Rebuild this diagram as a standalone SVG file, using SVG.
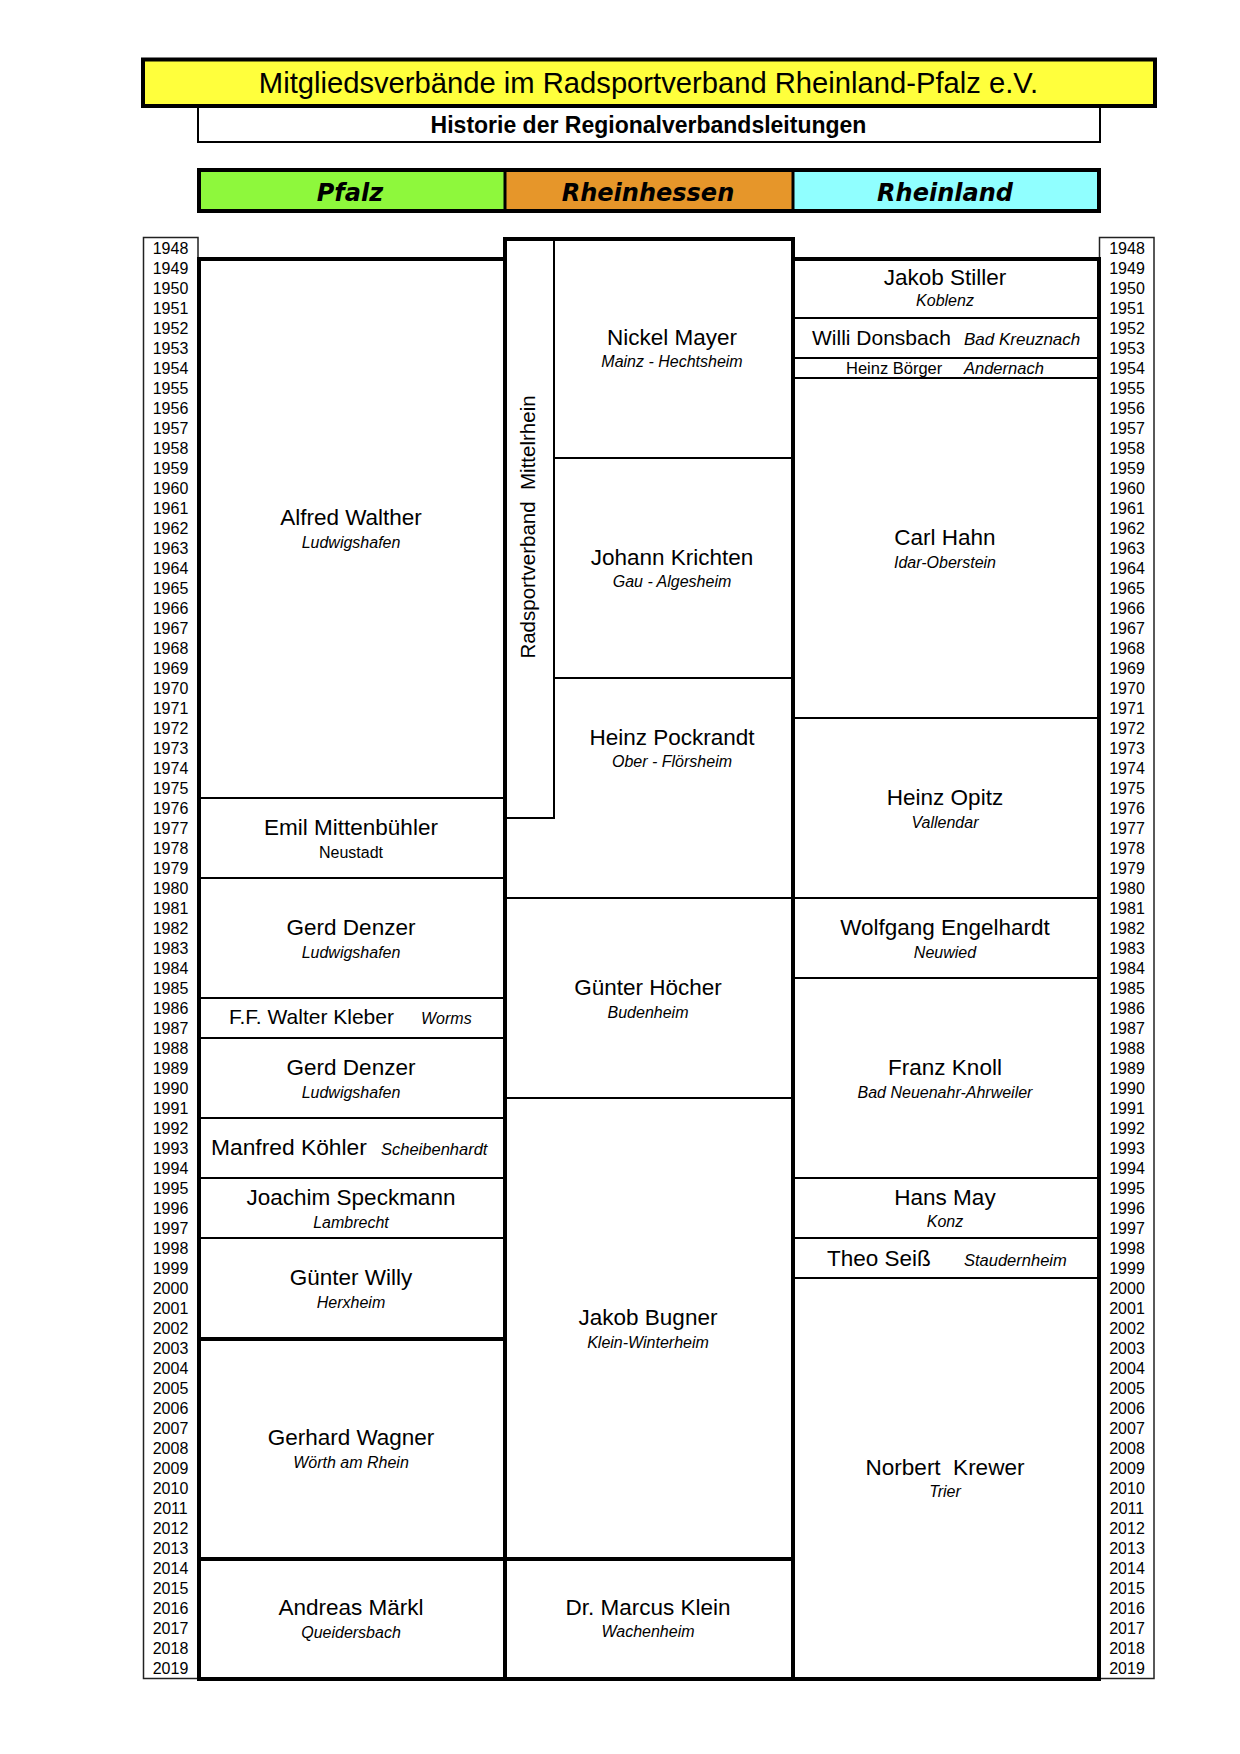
<svg xmlns="http://www.w3.org/2000/svg" width="1240" height="1754" viewBox="0 0 1240 1754">
<style>
text{font-family:"Liberation Sans",Arial,sans-serif;fill:#000}
.n{font-size:22.5px;text-anchor:middle}
.s{font-size:16px;font-style:italic;text-anchor:middle}
.u{font-size:16px;text-anchor:middle}
.y{font-size:16px;text-anchor:middle}
.h{font-family:"DejaVu Sans",Verdana,sans-serif;font-weight:bold;font-style:italic;font-size:24px;text-anchor:middle}
.thin{stroke:#000;stroke-width:2;fill:none}
.thick{stroke:#000;stroke-width:4;fill:none}
.ybox{stroke:#222;stroke-width:1.5;fill:#fff}
</style>
<rect width="1240" height="1754" fill="#fff"/>
<g id="title">
<rect x="143" y="59.5" width="1012" height="46.5" fill="#FFFF3C" stroke="#000" stroke-width="4"/>
<text x="648.5" y="93" style="font-size:29.2px;text-anchor:middle">Mitgliedsverbände im Radsportverband Rheinland-Pfalz e.V.</text>
</g>
<g id="subtitle">
<rect x="198" y="107" width="902" height="35" fill="#fff" stroke="#000" stroke-width="2"/>
<text x="648.5" y="133" style="font-size:23px;font-weight:bold;text-anchor:middle">Historie der Regionalverbandsleitungen</text>
</g>
<g id="header">
<rect x="199" y="170" width="306" height="41" fill="#8EF83C"/>
<rect x="505" y="170" width="288" height="41" fill="#E6962A"/>
<rect x="793" y="170" width="306" height="41" fill="#90FFFF"/>
<rect x="199" y="170" width="900" height="41" class="thick"/>
<line x1="505" y1="170" x2="505" y2="211" stroke="#000" stroke-width="3"/>
<line x1="793" y1="170" x2="793" y2="211" stroke="#000" stroke-width="3"/>
<text class="h" x="350" y="201">Pfalz</text>
<text class="h" x="648" y="201">Rheinhessen</text>
<text class="h" x="945" y="201">Rheinland</text>
</g>
<g id="years-left">
<rect class="ybox" x="143.5" y="237.5" width="54.5" height="1441"/>
<text class="y" x="170.5" y="254">1948</text><text class="y" x="170.5" y="274">1949</text><text class="y" x="170.5" y="294">1950</text><text class="y" x="170.5" y="314">1951</text><text class="y" x="170.5" y="334">1952</text><text class="y" x="170.5" y="354">1953</text><text class="y" x="170.5" y="374">1954</text><text class="y" x="170.5" y="394">1955</text><text class="y" x="170.5" y="414">1956</text><text class="y" x="170.5" y="434">1957</text><text class="y" x="170.5" y="454">1958</text><text class="y" x="170.5" y="474">1959</text><text class="y" x="170.5" y="494">1960</text><text class="y" x="170.5" y="514">1961</text><text class="y" x="170.5" y="534">1962</text><text class="y" x="170.5" y="554">1963</text><text class="y" x="170.5" y="574">1964</text><text class="y" x="170.5" y="594">1965</text><text class="y" x="170.5" y="614">1966</text><text class="y" x="170.5" y="634">1967</text><text class="y" x="170.5" y="654">1968</text><text class="y" x="170.5" y="674">1969</text><text class="y" x="170.5" y="694">1970</text><text class="y" x="170.5" y="714">1971</text><text class="y" x="170.5" y="734">1972</text><text class="y" x="170.5" y="754">1973</text><text class="y" x="170.5" y="774">1974</text><text class="y" x="170.5" y="794">1975</text><text class="y" x="170.5" y="814">1976</text><text class="y" x="170.5" y="834">1977</text><text class="y" x="170.5" y="854">1978</text><text class="y" x="170.5" y="874">1979</text><text class="y" x="170.5" y="894">1980</text><text class="y" x="170.5" y="914">1981</text><text class="y" x="170.5" y="934">1982</text><text class="y" x="170.5" y="954">1983</text><text class="y" x="170.5" y="974">1984</text><text class="y" x="170.5" y="994">1985</text><text class="y" x="170.5" y="1014">1986</text><text class="y" x="170.5" y="1034">1987</text><text class="y" x="170.5" y="1054">1988</text><text class="y" x="170.5" y="1074">1989</text><text class="y" x="170.5" y="1094">1990</text><text class="y" x="170.5" y="1114">1991</text><text class="y" x="170.5" y="1134">1992</text><text class="y" x="170.5" y="1154">1993</text><text class="y" x="170.5" y="1174">1994</text><text class="y" x="170.5" y="1194">1995</text><text class="y" x="170.5" y="1214">1996</text><text class="y" x="170.5" y="1234">1997</text><text class="y" x="170.5" y="1254">1998</text><text class="y" x="170.5" y="1274">1999</text><text class="y" x="170.5" y="1294">2000</text><text class="y" x="170.5" y="1314">2001</text><text class="y" x="170.5" y="1334">2002</text><text class="y" x="170.5" y="1354">2003</text><text class="y" x="170.5" y="1374">2004</text><text class="y" x="170.5" y="1394">2005</text><text class="y" x="170.5" y="1414">2006</text><text class="y" x="170.5" y="1434">2007</text><text class="y" x="170.5" y="1454">2008</text><text class="y" x="170.5" y="1474">2009</text><text class="y" x="170.5" y="1494">2010</text><text class="y" x="170.5" y="1514">2011</text><text class="y" x="170.5" y="1534">2012</text><text class="y" x="170.5" y="1554">2013</text><text class="y" x="170.5" y="1574">2014</text><text class="y" x="170.5" y="1594">2015</text><text class="y" x="170.5" y="1614">2016</text><text class="y" x="170.5" y="1634">2017</text><text class="y" x="170.5" y="1654">2018</text><text class="y" x="170.5" y="1674">2019</text>
</g>
<g id="years-right">
<rect class="ybox" x="1099.5" y="237.5" width="54.5" height="1441"/>
<text class="y" x="1127" y="254">1948</text><text class="y" x="1127" y="274">1949</text><text class="y" x="1127" y="294">1950</text><text class="y" x="1127" y="314">1951</text><text class="y" x="1127" y="334">1952</text><text class="y" x="1127" y="354">1953</text><text class="y" x="1127" y="374">1954</text><text class="y" x="1127" y="394">1955</text><text class="y" x="1127" y="414">1956</text><text class="y" x="1127" y="434">1957</text><text class="y" x="1127" y="454">1958</text><text class="y" x="1127" y="474">1959</text><text class="y" x="1127" y="494">1960</text><text class="y" x="1127" y="514">1961</text><text class="y" x="1127" y="534">1962</text><text class="y" x="1127" y="554">1963</text><text class="y" x="1127" y="574">1964</text><text class="y" x="1127" y="594">1965</text><text class="y" x="1127" y="614">1966</text><text class="y" x="1127" y="634">1967</text><text class="y" x="1127" y="654">1968</text><text class="y" x="1127" y="674">1969</text><text class="y" x="1127" y="694">1970</text><text class="y" x="1127" y="714">1971</text><text class="y" x="1127" y="734">1972</text><text class="y" x="1127" y="754">1973</text><text class="y" x="1127" y="774">1974</text><text class="y" x="1127" y="794">1975</text><text class="y" x="1127" y="814">1976</text><text class="y" x="1127" y="834">1977</text><text class="y" x="1127" y="854">1978</text><text class="y" x="1127" y="874">1979</text><text class="y" x="1127" y="894">1980</text><text class="y" x="1127" y="914">1981</text><text class="y" x="1127" y="934">1982</text><text class="y" x="1127" y="954">1983</text><text class="y" x="1127" y="974">1984</text><text class="y" x="1127" y="994">1985</text><text class="y" x="1127" y="1014">1986</text><text class="y" x="1127" y="1034">1987</text><text class="y" x="1127" y="1054">1988</text><text class="y" x="1127" y="1074">1989</text><text class="y" x="1127" y="1094">1990</text><text class="y" x="1127" y="1114">1991</text><text class="y" x="1127" y="1134">1992</text><text class="y" x="1127" y="1154">1993</text><text class="y" x="1127" y="1174">1994</text><text class="y" x="1127" y="1194">1995</text><text class="y" x="1127" y="1214">1996</text><text class="y" x="1127" y="1234">1997</text><text class="y" x="1127" y="1254">1998</text><text class="y" x="1127" y="1274">1999</text><text class="y" x="1127" y="1294">2000</text><text class="y" x="1127" y="1314">2001</text><text class="y" x="1127" y="1334">2002</text><text class="y" x="1127" y="1354">2003</text><text class="y" x="1127" y="1374">2004</text><text class="y" x="1127" y="1394">2005</text><text class="y" x="1127" y="1414">2006</text><text class="y" x="1127" y="1434">2007</text><text class="y" x="1127" y="1454">2008</text><text class="y" x="1127" y="1474">2009</text><text class="y" x="1127" y="1494">2010</text><text class="y" x="1127" y="1514">2011</text><text class="y" x="1127" y="1534">2012</text><text class="y" x="1127" y="1554">2013</text><text class="y" x="1127" y="1574">2014</text><text class="y" x="1127" y="1594">2015</text><text class="y" x="1127" y="1614">2016</text><text class="y" x="1127" y="1634">2017</text><text class="y" x="1127" y="1654">2018</text><text class="y" x="1127" y="1674">2019</text>
</g>
<g id="connectors">
<line class="thick" x1="197" y1="259" x2="507" y2="259"/>
<line class="thick" x1="791" y1="259" x2="1101" y2="259"/>
<line class="thick" x1="503" y1="239" x2="795" y2="239"/>
<line class="thick" x1="199" y1="257" x2="199" y2="1681"/>
<line class="thick" x1="505" y1="237" x2="505" y2="1681"/>
<line class="thick" x1="793" y1="237" x2="793" y2="1681"/>
<line class="thick" x1="1099" y1="257" x2="1099" y2="1681"/>
<line class="thick" x1="197" y1="1679" x2="1101" y2="1679"/>
<line class="thin" x1="199" y1="798" x2="505" y2="798"/>
<line class="thin" x1="199" y1="878" x2="505" y2="878"/>
<line class="thin" x1="199" y1="998" x2="505" y2="998"/>
<line class="thin" x1="199" y1="1038" x2="505" y2="1038"/>
<line class="thin" x1="199" y1="1118" x2="505" y2="1118"/>
<line class="thin" x1="199" y1="1178" x2="505" y2="1178"/>
<line class="thin" x1="199" y1="1238" x2="505" y2="1238"/>
<line class="thick" x1="199" y1="1339" x2="505" y2="1339"/>
<line class="thick" x1="199" y1="1559" x2="505" y2="1559"/>
<line class="thin" x1="554" y1="237" x2="554" y2="819"/>
<line class="thin" x1="505" y1="818" x2="555" y2="818"/>
<line class="thin" x1="554" y1="458" x2="793" y2="458"/>
<line class="thin" x1="554" y1="678" x2="793" y2="678"/>
<line class="thin" x1="505" y1="898" x2="793" y2="898"/>
<line class="thin" x1="505" y1="1098" x2="793" y2="1098"/>
<line class="thick" x1="505" y1="1559" x2="793" y2="1559"/>
<line class="thin" x1="793" y1="318" x2="1099" y2="318"/>
<line class="thin" x1="793" y1="358" x2="1099" y2="358"/>
<line class="thin" x1="793" y1="378" x2="1099" y2="378"/>
<line class="thin" x1="793" y1="718" x2="1099" y2="718"/>
<line class="thin" x1="793" y1="898" x2="1099" y2="898"/>
<line class="thin" x1="793" y1="978" x2="1099" y2="978"/>
<line class="thin" x1="793" y1="1178" x2="1099" y2="1178"/>
<line class="thin" x1="793" y1="1238" x2="1099" y2="1238"/>
<line class="thin" x1="793" y1="1278" x2="1099" y2="1278"/>
</g>
<g id="mittelrhein">
<text transform="translate(535,527) rotate(-90)" style="font-size:20.5px;text-anchor:middle" xml:space="preserve">Radsportverband  Mittelrhein</text>
</g>
<g id="pfalz-walther"><text class="n" x="351" y="525">Alfred Walther</text><text class="s" x="351" y="547.5">Ludwigshafen</text></g>
<g id="pfalz-mittenbuehler"><text class="n" x="351" y="835">Emil Mittenbühler</text><text class="u" x="351" y="858">Neustadt</text></g>
<g id="pfalz-denzer1"><text class="n" x="351" y="935">Gerd Denzer</text><text class="s" x="351" y="958">Ludwigshafen</text></g>
<g id="pfalz-kleber"><text x="229" y="1024" style="font-size:21px">F.F. Walter Kleber</text><text x="421" y="1024" style="font-size:16px;font-style:italic">Worms</text></g>
<g id="pfalz-denzer2"><text class="n" x="351" y="1075">Gerd Denzer</text><text class="s" x="351" y="1098">Ludwigshafen</text></g>
<g id="pfalz-koehler"><text x="211" y="1155" style="font-size:22.8px">Manfred Köhler</text><text x="381" y="1155" style="font-size:16.5px;font-style:italic">Scheibenhardt</text></g>
<g id="pfalz-speckmann"><text class="n" x="351" y="1205">Joachim Speckmann</text><text class="s" x="351" y="1228">Lambrecht</text></g>
<g id="pfalz-willy"><text class="n" x="351" y="1285">Günter Willy</text><text class="s" x="351" y="1308">Herxheim</text></g>
<g id="pfalz-wagner"><text class="n" x="351" y="1445">Gerhard Wagner</text><text class="s" x="351" y="1468">Wörth am Rhein</text></g>
<g id="pfalz-maerkl"><text class="n" x="351" y="1615">Andreas Märkl</text><text class="s" x="351" y="1638">Queidersbach</text></g>
<g id="rh-mayer"><text class="n" x="672" y="345">Nickel Mayer</text><text class="s" x="672" y="367">Mainz - Hechtsheim</text></g>
<g id="rh-krichten"><text class="n" x="672" y="565">Johann Krichten</text><text class="s" x="672" y="587">Gau - Algesheim</text></g>
<g id="rh-pockrandt"><text class="n" x="672" y="745">Heinz Pockrandt</text><text class="s" x="672" y="767">Ober - Flörsheim</text></g>
<g id="rh-hoecher"><text class="n" x="648" y="995">Günter Höcher</text><text class="s" x="648" y="1018">Budenheim</text></g>
<g id="rh-bugner"><text class="n" x="648" y="1325">Jakob Bugner</text><text class="s" x="648" y="1348">Klein-Winterheim</text></g>
<g id="rh-klein"><text class="n" x="648" y="1615">Dr. Marcus Klein</text><text class="s" x="648" y="1637">Wachenheim</text></g>
<g id="rl-stiller"><text class="n" x="945" y="285">Jakob Stiller</text><text class="s" x="945" y="306">Koblenz</text></g>
<g id="rl-donsbach"><text x="812" y="345" style="font-size:21px">Willi Donsbach</text><text x="964" y="345" style="font-size:17px;font-style:italic">Bad Kreuznach</text></g>
<g id="rl-boerger"><text x="846" y="374" style="font-size:16.5px">Heinz Börger</text><text x="964" y="374" style="font-size:16.5px;font-style:italic">Andernach</text></g>
<g id="rl-hahn"><text class="n" x="945" y="545">Carl Hahn</text><text class="s" x="945" y="567.5">Idar-Oberstein</text></g>
<g id="rl-opitz"><text class="n" x="945" y="805">Heinz Opitz</text><text class="s" x="945" y="828">Vallendar</text></g>
<g id="rl-engelhardt"><text class="n" x="945" y="935">Wolfgang Engelhardt</text><text class="s" x="945" y="958">Neuwied</text></g>
<g id="rl-knoll"><text class="n" x="945" y="1075">Franz Knoll</text><text class="s" x="945" y="1098">Bad Neuenahr-Ahrweiler</text></g>
<g id="rl-may"><text class="n" x="945" y="1205">Hans May</text><text class="s" x="945" y="1227">Konz</text></g>
<g id="rl-seiss"><text x="827" y="1266" style="font-size:22.5px">Theo Seiß</text><text x="964" y="1266" style="font-size:16.5px;font-style:italic">Staudernheim</text></g>
<g id="rl-krewer"><text class="n" x="945" y="1475" xml:space="preserve">Norbert  Krewer</text><text class="s" x="945" y="1497">Trier</text></g>
</svg>
